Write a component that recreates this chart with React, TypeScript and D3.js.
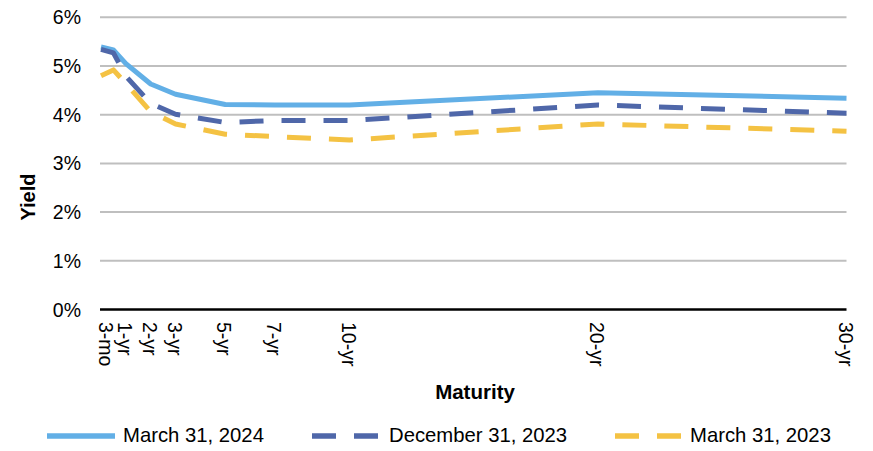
import React from "react";
import * as d3 from "d3";

const maturities = [0, 0.5, 1, 2, 3, 5, 7, 10, 20, 30];
const mar2024 = [5.39, 5.33, 5.05, 4.63, 4.42, 4.21, 4.2, 4.2, 4.45, 4.34];
const dec2023 = [5.34, 5.27, 4.79, 4.23, 4.01, 3.84, 3.88, 3.88, 4.2, 4.03];
const mar2023 = [4.8, 4.92, 4.64, 4.06, 3.81, 3.6, 3.55, 3.48, 3.81, 3.66];

const tickValues = [0.25, 1, 2, 3, 5, 7, 10, 20, 30];
const tickLabels = ["3-mo", "1-yr", "2-yr", "3-yr", "5-yr", "7-yr", "10-yr", "20-yr", "30-yr"];
const yTicks = [0, 1, 2, 3, 4, 5, 6];

const seriesNames = ["March 31, 2024", "December 31, 2023", "March 31, 2023"];
const seriesColors = ["#62AFE6", "#4F67A9", "#F4C243"];
const seriesDash = [null, "24 18", "24 18"];

const W = 873;
const H = 451;
const FONT = "Liberation Sans, Arial, sans-serif";

export default function App() {
  const x = d3.scaleLinear().domain([0, 30]).range([101, 846.5]);
  const y = d3.scaleLinear().domain([0, 6]).range([309.5, 17.3]);
  const line = d3
    .line<number>()
    .x((_, i) => x(maturities[i]))
    .y((d) => y(d));
  const data = [mar2024, dec2023, mar2023];

  const legendItems = [
    { x0: 47, x1: 115, tx: 123 },
    { x0: 312, x1: 380, tx: 389 },
    { x0: 615, x1: 681, tx: 690 },
  ];

  return (
    <svg
      width={W}
      height={H}
      style={{ position: "absolute", left: 0, top: 0, background: "#fff" }}
      fontFamily={FONT}
    >
      {yTicks.map((t) => (
        <g key={t}>
          {t > 0 && (
            <line x1={100} x2={846.5} y1={y(t)} y2={y(t)} stroke="#BFBFBF" strokeWidth={2} />
          )}
          <text x={81} y={y(t)} textAnchor="end" dominantBaseline="central" fontSize={19.5} fill="#000">
            {t}%
          </text>
        </g>
      ))}
      <line x1={100} x2={846.5} y1={y(0)} y2={y(0)} stroke="#000" strokeWidth={2.7} />

      {tickValues.map((t, i) => (
        <text
          key={t}
          transform={`translate(${x(t) - 1},322) rotate(90)`}
          textAnchor="start"
          dominantBaseline="central"
          fontSize={19.5}
          fill="#000"
        >
          {tickLabels[i]}
        </text>
      ))}

      {data.map((s, i) => (
        <path
          key={i}
          d={line(s) || ""}
          fill="none"
          stroke={seriesColors[i]}
          strokeWidth={5}
          strokeDasharray={seriesDash[i] || undefined}
          strokeLinejoin="round"
          strokeLinecap="butt"
        />
      ))}

      <text
        transform="translate(28,197) rotate(-90)"
        textAnchor="middle"
        dominantBaseline="central"
        fontSize={20}
        fontWeight="bold"
      >
        Yield
      </text>
      <text x={475} y={391} textAnchor="middle" dominantBaseline="central" fontSize={20.5} fontWeight="bold">
        Maturity
      </text>

      {legendItems.map((l, i) => (
        <g key={i}>
          <line
            x1={l.x0}
            x2={l.x1}
            y1={436}
            y2={436}
            stroke={seriesColors[i]}
            strokeWidth={5.5}
            strokeDasharray={seriesDash[i] || undefined}
          />
          <text x={l.tx} y={435} dominantBaseline="central" fontSize={20.3} fill="#000">
            {seriesNames[i]}
          </text>
        </g>
      ))}
    </svg>
  );
}
